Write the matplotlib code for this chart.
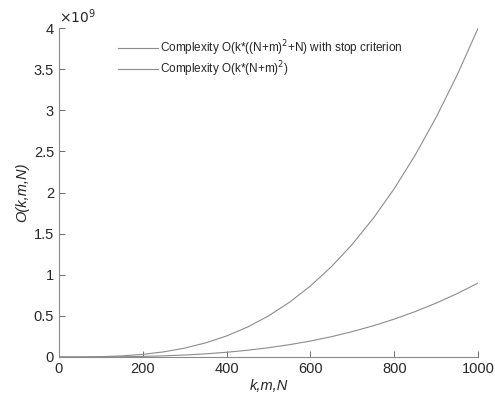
import matplotlib.pyplot as plt
from matplotlib.ticker import FuncFormatter

plt.rcParams["font.family"] = ["Liberation Sans", "DejaVu Sans"]

# values (k = m = N on the x axis)
kmn = [0, 50, 100, 150, 200, 250, 300, 350, 400, 450, 500,
       550, 600, 650, 700, 750, 800, 850, 900, 950, 1000]
cost_stop = [0, 0.0005e9, 0.004e9, 0.0135e9, 0.032e9, 0.0625e9, 0.108e9,
             0.1715e9, 0.256e9, 0.3645e9, 0.5e9, 0.6655e9, 0.864e9, 1.0985e9,
             1.372e9, 1.6875e9, 2.048e9, 2.4565e9, 2.916e9, 3.4295e9, 4.0e9]
cost_plain = [0, 0.0001e9, 0.0009e9, 0.003e9, 0.0072e9, 0.014e9, 0.024e9,
              0.0386e9, 0.0576e9, 0.082e9, 0.1125e9, 0.15e9, 0.194e9, 0.247e9,
              0.309e9, 0.38e9, 0.461e9, 0.553e9, 0.656e9, 0.771e9, 0.9e9]
labels = ["Complexity O(k*((N+m)$^2$+N) with stop criterion",
          "Complexity O(k*(N+m)$^2$)"]

fig = plt.figure(figsize=(4.95, 4.0), dpi=100)
ax = fig.add_axes([0.119, 0.1075, 0.847, 0.8225])

ax.plot(kmn, cost_stop, color="#8c8c8c", linewidth=0.8, label=labels[0])
ax.plot(kmn, cost_plain, color="#8c8c8c", linewidth=0.8, label=labels[1])

ax.set_xlim(0, 1000)
ax.set_ylim(0, 4e9)
ax.set_xticks(range(0, 1001, 200))
ax.set_yticks([i * 0.5e9 for i in range(9)])
ax.yaxis.set_major_formatter(FuncFormatter(lambda v, p: f"{v / 1e9:g}"))
ax.text(0.0, 1.005, r"$\times10^{9}$", transform=ax.transAxes, fontsize=10,
        color="#262626", ha="left", va="bottom")

for side in ["top", "right"]:
    ax.spines[side].set_visible(False)
for side in ["left", "bottom"]:
    ax.spines[side].set_color("#8a8a8a")
    ax.spines[side].set_linewidth(0.8)

ax.tick_params(direction="in", length=4, width=0.6, color="#555555",
               labelsize=10.5, labelcolor="#262626")

ax.set_xlabel("k,m,N", fontsize=10.5, style="italic", color="#262626",
              labelpad=2)
ax.set_ylabel("O(k,m,N)", fontsize=10.5, style="italic", color="#262626",
              labelpad=3)

ax.legend(loc="upper left", bbox_to_anchor=(0.115, 1.0), frameon=False,
          fontsize=8.5, handlelength=3.4, handletextpad=0.2, labelspacing=0.1,
          labelcolor="#262626")

plt.savefig("out.png", dpi=100)
plt.close()
